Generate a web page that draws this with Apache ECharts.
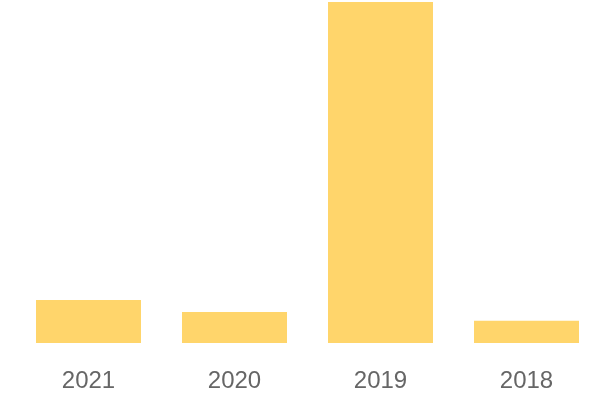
<!DOCTYPE html>
<html>
<head>
<meta charset="utf-8">
<script src="https://cdn.jsdelivr.net/npm/echarts@6/dist/echarts.min.js"></script>
<style>
  html, body { margin: 0; padding: 0; background: #fff; }
  #chart { width: 600px; height: 400px; }
</style>
</head>
<body>
<div id="chart"></div>
<script>
// data
const years = ['2021', '2020', '2019', '2018']
const values = [126, 91, 1000, 65]

const chart = echarts.init(document.getElementById('chart'))

chart.setOption({
  animation: false,
  grid: {
    left: 15.5,
    right: 0.5,
    top: 2,
    bottom: 57
  },
  xAxis: {
    type: 'category',
    data: years,
    axisLine: { show: false },
    axisTick: { show: false },
    axisLabel: {
      color: '#666',
      fontFamily: 'Liberation Sans',
      fontSize: 24,
      margin: 26
    }
  },
  yAxis: {
    type: 'value',
    min: 0,
    max: 1000,
    show: false,
    splitLine: { show: false }
  },
  series: [
    {
      type: 'bar',
      data: values,
      barWidth: 105,
      itemStyle: { color: '#ffd56b' }
    }
  ]
})
</script>
</body>
</html>
